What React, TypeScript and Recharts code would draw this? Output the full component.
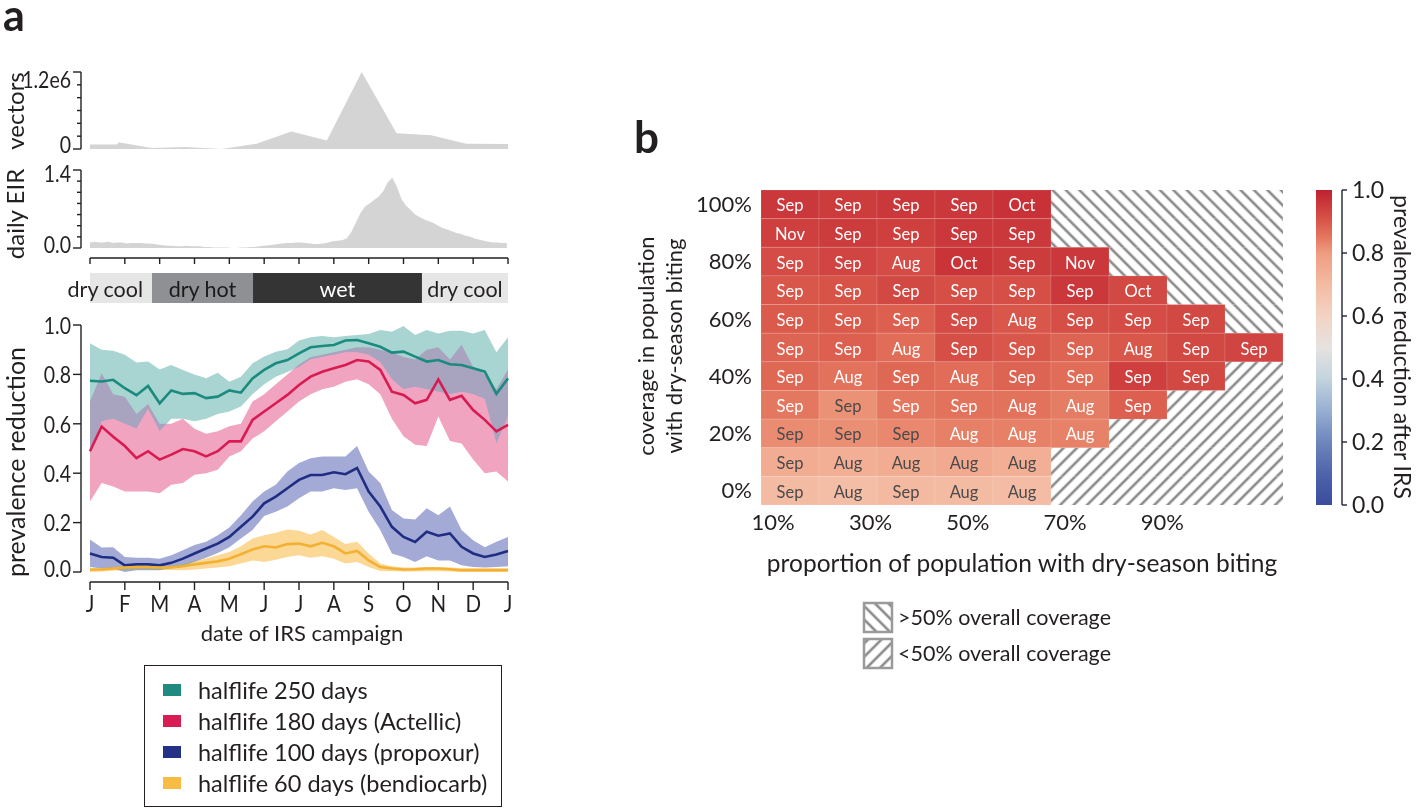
// Seasonal IRS timing figure: (a) vectors, EIR, season bar and prevalence reduction by campaign date,
// (b) heatmap of best campaign month by coverage and dry-season biting.
import React from "react";
import {
  AreaChart,
  Area,
  ComposedChart,
  Line,
  XAxis,
  YAxis,
  BarChart,
  Bar,
  LabelList,
  ScatterChart,
  Scatter,
} from "recharts";

const FONT = "Lato, 'Open Sans', sans-serif";
const INK = "#231f20";

// ---------- panel a data ----------
const monthLabels = ["J", "F", "M", "A", "M", "J", "J", "A", "S", "O", "N", "D", "J"];
const monthTicks = monthLabels.map((_, i) => i);

const vectorMonth = [0, 0.78, 0.82, 1.77, 2.73, 3.78, 4.78, 5.78, 6.8, 7.8, 8.8, 9.8, 10.8, 12];
const vectorCount = [70000, 70000, 105000, 15000, 30000, 0, 82000, 273000, 134000, 1200000, 247000, 216000, 82000, 77000];
const vectorTicks = [0, 200000, 400000, 600000, 800000, 1000000, 1200000];

const eirStepDays = 4;
const eirDaily = [
  0.1, 0.11, 0.1, 0.1, 0.11, 0.09, 0.1, 0.1, 0.08, 0.09,
  0.09, 0.09, 0.08, 0.08, 0.07, 0.06, 0.05, 0.04, 0.04, 0.03,
  0.03, 0.04, 0.03, 0.03, 0.03, 0.02, 0.02, 0.01, 0.01, 0.01,
  0.01, 0.0, 0.0, 0.01, 0.01, 0.02, 0.02, 0.03, 0.04, 0.05,
  0.06, 0.07, 0.08, 0.09, 0.09, 0.1, 0.1, 0.09, 0.08, 0.07,
  0.07, 0.08, 0.1, 0.12, 0.13, 0.14, 0.17, 0.28, 0.45, 0.62,
  0.74, 0.8, 0.86, 0.92, 1.02, 1.18, 1.26, 1.1, 0.88, 0.76,
  0.68, 0.6, 0.55, 0.51, 0.48, 0.45, 0.4, 0.36, 0.33, 0.3,
  0.27, 0.25, 0.22, 0.2, 0.17, 0.15, 0.13, 0.11, 0.1, 0.1,
  0.09, 0.09,
];
const eirTicks = [0, 0.2, 0.4, 0.6, 0.8, 1.0, 1.2, 1.4];

const seasonNames = ["dry cool", "dry hot", "wet", "dry cool"];
const seasonEnds = [1.78, 4.68, 9.53, 12];

const prevTicks = [0, 0.2, 0.4, 0.6, 0.8, 1.0];

// halflife 250 days
const hl250Mid = [0.774, 0.771, 0.778, 0.744, 0.716, 0.753, 0.683, 0.735, 0.721, 0.724, 0.704, 0.71, 0.735, 0.726, 0.784, 0.818, 0.845, 0.858, 0.885, 0.91, 0.915, 0.919, 0.937, 0.939, 0.926, 0.912, 0.888, 0.892, 0.872, 0.852, 0.858, 0.841, 0.838, 0.825, 0.811, 0.721, 0.784];
const hl250Hi = [0.926, 0.9, 0.896, 0.88, 0.848, 0.852, 0.82, 0.838, 0.818, 0.8, 0.784, 0.807, 0.77, 0.79, 0.845, 0.872, 0.892, 0.902, 0.937, 0.95, 0.955, 0.95, 0.955, 0.96, 0.964, 0.98, 0.973, 0.996, 0.96, 0.98, 0.966, 0.977, 0.977, 0.966, 0.98, 0.89, 0.95];
const hl250Lo = [0.48, 0.61, 0.62, 0.6, 0.58, 0.66, 0.57, 0.62, 0.62, 0.61, 0.62, 0.64, 0.65, 0.67, 0.72, 0.76, 0.79, 0.81, 0.83, 0.86, 0.87, 0.88, 0.89, 0.89, 0.88, 0.85, 0.78, 0.74, 0.75, 0.74, 0.73, 0.72, 0.73, 0.72, 0.7, 0.52, 0.63];
// halflife 180 days (Actellic)
const hl180Mid = [0.489, 0.589, 0.548, 0.51, 0.461, 0.489, 0.455, 0.475, 0.498, 0.489, 0.468, 0.489, 0.529, 0.529, 0.616, 0.65, 0.683, 0.717, 0.757, 0.791, 0.811, 0.825, 0.838, 0.858, 0.852, 0.818, 0.73, 0.717, 0.683, 0.697, 0.78, 0.697, 0.713, 0.656, 0.616, 0.569, 0.596];
const hl180Hi = [0.69, 0.805, 0.72, 0.71, 0.64, 0.68, 0.6, 0.6, 0.62, 0.58, 0.56, 0.57, 0.59, 0.6, 0.69, 0.72, 0.76, 0.8, 0.84, 0.87, 0.88, 0.89, 0.9, 0.91, 0.91, 0.9, 0.89, 0.87, 0.86, 0.9, 0.91, 0.86, 0.92, 0.83, 0.8, 0.74, 0.82];
const hl180Lo = [0.285, 0.36, 0.346, 0.326, 0.326, 0.326, 0.319, 0.353, 0.36, 0.394, 0.4, 0.414, 0.468, 0.489, 0.54, 0.57, 0.61, 0.65, 0.69, 0.72, 0.74, 0.75, 0.77, 0.78, 0.76, 0.72, 0.62, 0.55, 0.515, 0.51, 0.63, 0.53, 0.52, 0.455, 0.4, 0.407, 0.366];
// halflife 100 days (propoxur)
const hl100Mid = [0.075, 0.061, 0.058, 0.027, 0.031, 0.031, 0.027, 0.037, 0.054, 0.075, 0.095, 0.115, 0.142, 0.183, 0.224, 0.278, 0.305, 0.339, 0.373, 0.393, 0.393, 0.404, 0.396, 0.421, 0.326, 0.265, 0.183, 0.142, 0.122, 0.163, 0.147, 0.156, 0.102, 0.075, 0.061, 0.071, 0.085];
const hl100Hi = [0.132, 0.099, 0.1, 0.061, 0.058, 0.058, 0.054, 0.068, 0.088, 0.109, 0.122, 0.149, 0.18, 0.23, 0.285, 0.326, 0.353, 0.407, 0.441, 0.461, 0.468, 0.468, 0.468, 0.51, 0.407, 0.36, 0.251, 0.217, 0.213, 0.258, 0.23, 0.265, 0.17, 0.129, 0.1, 0.122, 0.142];
const hl100Lo = [0.02, 0.014, 0.014, 0.0, 0.007, 0.007, 0.007, 0.014, 0.023, 0.04, 0.058, 0.077, 0.1, 0.136, 0.17, 0.227, 0.244, 0.265, 0.299, 0.326, 0.326, 0.339, 0.332, 0.339, 0.244, 0.17, 0.075, 0.061, 0.04, 0.064, 0.047, 0.047, 0.027, 0.02, 0.018, 0.02, 0.023];
// halflife 60 days (bendiocarb)
const hl60Mid = [0.01, 0.01, 0.014, 0.018, 0.02, 0.02, 0.018, 0.018, 0.023, 0.031, 0.037, 0.043, 0.054, 0.072, 0.091, 0.104, 0.099, 0.113, 0.115, 0.104, 0.118, 0.104, 0.075, 0.085, 0.047, 0.02, 0.014, 0.01, 0.011, 0.014, 0.014, 0.011, 0.007, 0.007, 0.007, 0.007, 0.007];
const hl60Hi = [0.014, 0.016, 0.02, 0.024, 0.026, 0.026, 0.025, 0.026, 0.032, 0.045, 0.055, 0.068, 0.081, 0.104, 0.136, 0.149, 0.159, 0.172, 0.167, 0.152, 0.17, 0.142, 0.113, 0.122, 0.075, 0.034, 0.023, 0.018, 0.018, 0.02, 0.02, 0.018, 0.016, 0.016, 0.016, 0.016, 0.016];
const hl60Lo = [0.0, 0.002, 0.005, 0.008, 0.01, 0.01, 0.008, 0.008, 0.007, 0.01, 0.014, 0.018, 0.023, 0.034, 0.047, 0.04, 0.05, 0.061, 0.068, 0.058, 0.064, 0.054, 0.034, 0.04, 0.02, 0.004, 0.003, 0.002, 0.002, 0.003, 0.003, 0.002, 0.0, 0.0, 0.0, 0.0, 0.0];

const seriesNames = [
  "halflife 250 days",
  "halflife 180 days (Actellic)",
  "halflife 100 days (propoxur)",
  "halflife 60 days (bendiocarb)",
];

// ---------- panel b data ----------
const propLevels = [10, 20, 30, 40, 50, 60, 70, 80, 90];
const coverageRows = [100, 90, 80, 70, 60, 50, 40, 30, 20, 10, 0];
const coverageTicks = [0, 20, 40, 60, 80, 100];
const propTicks = [10, 30, 50, 70, 90];
const bestMonth = [
  ["Sep", "Sep", "Sep", "Sep", "Oct"],
  ["Nov", "Sep", "Sep", "Sep", "Sep"],
  ["Sep", "Sep", "Aug", "Oct", "Sep", "Nov"],
  ["Sep", "Sep", "Sep", "Sep", "Sep", "Sep", "Oct"],
  ["Sep", "Sep", "Sep", "Sep", "Aug", "Sep", "Sep", "Sep"],
  ["Sep", "Sep", "Aug", "Sep", "Sep", "Sep", "Aug", "Sep", "Sep"],
  ["Sep", "Aug", "Sep", "Aug", "Sep", "Sep", "Sep", "Sep"],
  ["Sep", "Sep", "Sep", "Sep", "Aug", "Aug", "Sep"],
  ["Sep", "Sep", "Sep", "Aug", "Aug", "Aug"],
  ["Sep", "Aug", "Aug", "Aug", "Aug"],
  ["Sep", "Aug", "Sep", "Aug", "Aug"],
];
const bestReduction = [
  [0.956, 0.95, 0.956, 0.956, 0.97],
  [0.943, 0.95, 0.943, 0.956, 0.956],
  [0.92, 0.935, 0.92, 0.963, 0.95, 0.956],
  [0.9, 0.907, 0.928, 0.914, 0.914, 0.956, 0.928],
  [0.895, 0.895, 0.888, 0.92, 0.9, 0.914, 0.92, 0.928],
  [0.88, 0.888, 0.865, 0.914, 0.9, 0.88, 0.9, 0.928, 0.935],
  [0.873, 0.858, 0.873, 0.865, 0.88, 0.865, 0.943, 0.928],
  [0.85, 0.815, 0.85, 0.858, 0.858, 0.843, 0.888],
  [0.822, 0.818, 0.827, 0.838, 0.838, 0.835],
  [0.75, 0.74, 0.75, 0.758, 0.74],
  [0.7, 0.69, 0.705, 0.7, 0.695],
];
const colorbarTicks = [0, 0.2, 0.4, 0.6, 0.8, 1.0];

// ---------- derived tables ----------
const vectorData = vectorMonth.map((m, i) => ({ m, v: vectorCount[i] }));
const eirData = eirDaily.map((v, i) => ({ m: ((i * eirStepDays) / 365) * 12, v }));
const seasonRow: Record<string, any> = { row: "season" };
seasonEnds.forEach((e, i) => {
  seasonRow["s" + i] = e - (i ? seasonEnds[i - 1] : 0);
});
const prevData = hl250Mid.map((_, i) => ({
  m: i / 3,
  t: hl250Mid[i],
  tb: [hl250Lo[i], hl250Hi[i]],
  p: hl180Mid[i],
  pb: [hl180Lo[i], hl180Hi[i]],
  b: hl100Mid[i],
  bb: [hl100Lo[i], hl100Hi[i]],
  o: hl60Mid[i],
  ob: [hl60Lo[i], hl60Hi[i]],
}));

const heatCells = bestMonth.flatMap((row, r) =>
  row.map((mon, c) => ({ prop: propLevels[c], cov: coverageRows[r], mon, v: bestReduction[r][c] }))
);
const hatchCells = bestMonth.flatMap((row, r) =>
  propLevels.slice(row.length).map((prop) => ({ prop, cov: coverageRows[r] }))
);
const hatchAbove = hatchCells.filter((d) => d.cov > 50);
const hatchBelow = hatchCells.filter((d) => d.cov < 50);
const propLabelAnchors = propTicks.map((pct) => ({ pct, cov: 0 }));
const colorbarData = [{ x: 0, top: 1 }, { x: 1, top: 1 }];

// ---------- styling ----------
const teal = "#1b8a7f";
const pink = "#d81b52";
const navy = "#1f2d82";
const amber = "#f3b133";
const lineColors = [teal, pink, navy, amber];
const swatchColors = ["#1e8a80", "#d81d55", "#233287", "#f8bc45"];
const seasonFill = ["#e6e6e6", "#8f9093", "#343434", "#e6e6e6"];
const seasonInk = [INK, "#1a1a1a", "#ffffff", INK];

const cmapStops: [number, string][] = [
  [0, "#3a4c9c"], [0.1, "#4f64ab"], [0.2, "#6e86bd"], [0.3, "#97afd2"], [0.4, "#c3d4de"],
  [0.5, "#e6e2e0"], [0.6, "#f3d3c4"], [0.7, "#f4bba3"], [0.8, "#ee9c80"], [0.85, "#e4775f"],
  [0.9, "#d9574a"], [1, "#c0202f"],
];
function hexToRgb(h: string) {
  return [1, 3, 5].map((k) => parseInt(h.slice(k, k + 2), 16));
}
function cmap(v: number) {
  for (let i = 1; i < cmapStops.length; i++) {
    const [v1, c1] = cmapStops[i];
    const [v0, c0] = cmapStops[i - 1];
    if (v <= v1) {
      const t = (v - v0) / (v1 - v0);
      const a = hexToRgb(c0);
      const b = hexToRgb(c1);
      const m = a.map((x, k) => Math.round(x + (b[k] - x) * t));
      return `rgb(${m[0]},${m[1]},${m[2]})`;
    }
  }
  return cmapStops[cmapStops.length - 1][1];
}

// layout of panel a (pixels)
const A_SPAN_X = 418;
const CELL_W = 58;
const CELL_H = 315 / 11;

function LeftTick(props: any) {
  const { x, y, payload, label, span = 0, dy = 0 } = props;
  const v = payload.value;
  const text = label ? label(v) : null;
  const len = text != null ? 8 : 4;
  const off = typeof dy === "function" ? dy(v) : dy;
  return (
    <g>
      {span && v === 0 ? <line x1={x} x2={x} y1={y} y2={y - span} stroke={INK} strokeWidth={1.4} /> : null}
      <line x1={x - len} x2={x} y1={y} y2={y} stroke={INK} strokeWidth={1.4} />
      {text != null ? (
        <text transform={`translate(${x - 10},${y + off}) scale(1,1.22)`} textAnchor="end" dominantBaseline="central" fontSize={19.5} fill={INK}>
          {text}
        </text>
      ) : null}
    </g>
  );
}

function BottomTick(props: any) {
  const { x, y, payload, len = 8, showLabel = true } = props;
  return (
    <g>
      {payload.value === 0 ? <line x1={x} x2={x + A_SPAN_X} y1={y} y2={y} stroke={INK} strokeWidth={1.4} /> : null}
      <line x1={x} x2={x} y1={y} y2={y + len} stroke={INK} strokeWidth={1.4} />
      {showLabel ? (
        <text transform={`translate(${x},${y + 30}) scale(1,1.15)`} textAnchor="middle" fontSize={20.5} fill={INK}>
          {monthLabels[payload.value]}
        </text>
      ) : null}
    </g>
  );
}

function HeatCell(props: any) {
  const { cx, cy, payload } = props;
  return (
    <g>
      <rect x={cx - CELL_W / 2} y={cy - CELL_H / 2} width={CELL_W} height={CELL_H} fill={cmap(payload.v)} stroke="rgba(255,255,255,0.12)" strokeWidth={1} />
      <text x={cx} y={cy + 1} textAnchor="middle" dominantBaseline="central" fontSize={16.5} fill={payload.v > 0.83 ? "#ffffff" : "#4a4a4a"}>
        {payload.mon}
      </text>
    </g>
  );
}

function HatchCell(props: any) {
  const { cx, cy, pattern } = props;
  return <rect x={cx - CELL_W / 2} y={cy - CELL_H / 2} width={CELL_W} height={CELL_H} fill={`url(#${pattern})`} />;
}

function NoMark() {
  return <g />;
}

function HatchDefs({ prefix }: { prefix: string }) {
  return (
    <defs>
      <pattern id={prefix + "Back"} width={9.5} height={9.5} patternUnits="userSpaceOnUse" patternTransform="rotate(-45)">
        <line x1={2} x2={2} y1={0} y2={9.5} stroke="#8a8a8a" strokeWidth={2.6} />
      </pattern>
      <pattern id={prefix + "Fwd"} width={9.5} height={9.5} patternUnits="userSpaceOnUse" patternTransform="rotate(45)">
        <line x1={2} x2={2} y1={0} y2={9.5} stroke="#8a8a8a" strokeWidth={2.6} />
      </pattern>
    </defs>
  );
}

function VectorsChart() {
  return (
    <AreaChart width={520} height={100} data={vectorData} margin={{ top: 12, right: 12, bottom: 11, left: 0 }}>
      <XAxis type="number" dataKey="m" domain={[0, 12]} hide padding={{ left: 9, right: 0 }} />
      <YAxis
        width={81}
        domain={[0, 1200000]}
        ticks={vectorTicks}
        interval={0}
        axisLine={{ stroke: INK, strokeWidth: 1.4 }}
        tickLine={false}
        tickSize={0}
        tickMargin={0}
        tick={<LeftTick label={(v: number) => (v === 0 ? "0" : v === 1200000 ? "1.2e6" : null)} dy={(v: number) => (v === 0 ? -5 : 7)} />}
      />
      <Area dataKey="v" type="linear" stroke="none" fill="#d4d4d4" fillOpacity={1} isAnimationActive={false} />
    </AreaChart>
  );
}

function EirChart() {
  return (
    <AreaChart width={520} height={118} data={eirData} margin={{ top: 20, right: 12, bottom: 0, left: 0 }}>
      <XAxis
        type="number"
        dataKey="m"
        domain={[0, 12]}
        ticks={monthTicks}
        interval={0}
        padding={{ left: 9, right: 0 }}
        height={10}
        axisLine={false}
        tickLine={false}
        tickSize={0}
        tickMargin={0}
        tick={<BottomTick len={6} showLabel={false} />}
      />
      <YAxis
        width={81}
        domain={[0, 1.4]}
        ticks={eirTicks}
        interval={0}
        padding={{ top: 0, bottom: 10 }}
        axisLine={false}
        tickLine={false}
        tickSize={0}
        tickMargin={0}
        tick={<LeftTick span={78} label={(v: number) => (v === 0 ? "0.0" : v === 1.4 ? "1.4" : null)} dy={(v: number) => (v === 0 ? -4 : 3)} />}
      />
      <Area dataKey="v" type="linear" stroke="none" fill="#d4d4d4" fillOpacity={1} isAnimationActive={false} />
    </AreaChart>
  );
}

function SeasonBar() {
  return (
    <BarChart width={520} height={30} layout="vertical" data={[seasonRow]} margin={{ top: 0, right: 12, bottom: 0, left: 81 }} barCategoryGap={0}>
      <XAxis type="number" domain={[0, 12]} hide padding={{ left: 9, right: 0 }} />
      <YAxis type="category" dataKey="row" hide />
      {seasonNames.map((name, i) => (
        <Bar key={i} dataKey={"s" + i} stackId="season" fill={seasonFill[i]} isAnimationActive={false}>
          <LabelList
            dataKey={"s" + i}
            content={(p: any) => (
              <text
                x={i === 0 ? p.x + p.width - 9 : p.x + p.width / 2}
                y={p.y + p.height / 2 + 1}
                textAnchor={i === 0 ? "end" : "middle"}
                dominantBaseline="central"
                fontSize={21.5}
                fill={seasonInk[i]}
              >
                {name}
              </text>
            )}
          />
        </Bar>
      ))}
    </BarChart>
  );
}

function PrevalenceChart() {
  const bands = [
    { key: "tb", fill: "#a8d5d1" },
    { key: "pb", fill: "#f0a4c0" },
    { key: "bb", fill: "#a3aad6" },
    { key: "ob", fill: "#fcd896" },
  ];
  const lines = ["t", "p", "b", "o"];
  return (
    <ComposedChart width={520} height={342} data={prevData} margin={{ top: 15, right: 12, bottom: 0, left: 0 }}>
      <XAxis
        type="number"
        dataKey="m"
        domain={[0, 12]}
        ticks={monthTicks}
        interval={0}
        padding={{ left: 9, right: 0 }}
        height={70}
        axisLine={false}
        tickLine={false}
        tickSize={0}
        tickMargin={0}
        tick={<BottomTick />}
      />
      <YAxis
        width={81}
        domain={[0, 1]}
        ticks={prevTicks}
        interval={0}
        padding={{ top: 0, bottom: 10 }}
        axisLine={false}
        tickLine={false}
        tickSize={0}
        tickMargin={0}
        tick={<LeftTick span={247} label={(v: number) => v.toFixed(1)} dy={(v: number) => (v === 0 ? -4 : 0)} />}
      />
      {bands.map((b) => (
        <Area key={b.key} className="band" dataKey={b.key} type="linear" stroke="none" fill={b.fill} fillOpacity={1} isAnimationActive={false} />
      ))}
      {lines.map((k, i) => (
        <Line key={k} dataKey={k} type="linear" stroke={lineColors[i]} strokeWidth={2.6} dot={false} activeDot={false} isAnimationActive={false} />
      ))}
    </ComposedChart>
  );
}

function HeatmapChart() {
  return (
    <ScatterChart width={660} height={420} margin={{ top: 20, right: 17, bottom: 5, left: 0 }}>
      <HatchDefs prefix="hm" />
      <XAxis xAxisId="cell" type="number" dataKey="prop" domain={[5, 95]} hide height={0} />
      <XAxis
        xAxisId="pct"
        type="number"
        dataKey="pct"
        domain={[7.5, 114.8]}
        allowDataOverflow
        ticks={propTicks}
        interval={0}
        height={80}
        axisLine={false}
        tickLine={false}
        tickSize={0}
        tickMargin={9}
        tickFormatter={(v: number) => `${v}%`}
        tick={{ fontSize: 22, fill: INK }}
      />
      <YAxis
        type="number"
        dataKey="cov"
        domain={[-5, 105]}
        ticks={coverageTicks}
        interval={0}
        width={121}
        axisLine={false}
        tickLine={false}
        tickSize={0}
        tickMargin={9}
        tickFormatter={(v: number) => `${v}%`}
        tick={{ fontSize: 22, fill: INK }}
      />
      <Scatter xAxisId="cell" data={hatchAbove} shape={<HatchCell pattern="hmBack" />} isAnimationActive={false} />
      <Scatter xAxisId="cell" data={hatchBelow} shape={<HatchCell pattern="hmFwd" />} isAnimationActive={false} />
      <Scatter xAxisId="cell" data={heatCells} shape={<HeatCell />} isAnimationActive={false} />
      <Scatter xAxisId="pct" data={propLabelAnchors} shape={<NoMark />} isAnimationActive={false} />
    </ScatterChart>
  );
}

function ColorbarChart() {
  const stopsTopDown = [...cmapStops].reverse();
  return (
    <AreaChart width={117} height={360} data={colorbarData} margin={{ top: 20, right: 0, bottom: 25, left: 16 }}>
      <defs>
        <linearGradient id="cbarGrad" x1="0" y1="0" x2="0" y2="1">
          {stopsTopDown.map(([v, c]) => (
            <stop key={v} offset={`${(1 - v) * 100}%`} stopColor={c} />
          ))}
        </linearGradient>
      </defs>
      <XAxis type="number" dataKey="x" domain={[0, 1.625]} hide />
      <YAxis
        orientation="right"
        width={75}
        domain={[0, 1]}
        ticks={colorbarTicks}
        interval={0}
        axisLine={{ stroke: "#1d2338", strokeWidth: 1.4 }}
        tickLine={{ stroke: "#1d2338", strokeWidth: 1.4 }}
        tickSize={5}
        tickMargin={5}
        tickFormatter={(v: number) => v.toFixed(1)}
        tick={{ fontSize: 23, fill: INK }}
      />
      <Area dataKey="top" type="linear" baseValue={0} stroke="none" fill="url(#cbarGrad)" fillOpacity={1} isAnimationActive={false} />
    </AreaChart>
  );
}

function Rot({ x, y, angle, size, children }: any) {
  return (
    <text x={x} y={y} transform={`rotate(${angle} ${x} ${y})`} textAnchor="middle" fontSize={size} fill={INK}>
      {children}
    </text>
  );
}

export default function App() {
  return (
    <div style={{ position: "absolute", left: 0, top: 0, width: 1417, height: 808, background: "#fff", fontFamily: FONT, color: INK, overflow: "hidden" }}>
      <style>{`.band .recharts-area-area{mix-blend-mode:darken}`}</style>
      <div style={{ position: "absolute", left: 0, top: 60 }}>
        <VectorsChart />
      </div>
      <div style={{ position: "absolute", left: 0, top: 150 }}>
        <EirChart />
      </div>
      <div style={{ position: "absolute", left: 0, top: 273 }}>
        <SeasonBar />
      </div>
      <div style={{ position: "absolute", left: 0, top: 310 }}>
        <PrevalenceChart />
      </div>
      <div style={{ position: "absolute", left: 640, top: 170 }}>
        <HeatmapChart />
      </div>
      <div style={{ position: "absolute", left: 1300, top: 170 }}>
        <ColorbarChart />
      </div>

      {/* legend of panel a */}
      <div style={{ position: "absolute", left: 144, top: 665, width: 358, height: 142, boxSizing: "border-box", border: `1.5px solid ${INK}`, background: "#fff" }}>
        {seriesNames.map((name, i) => (
          <div key={name} style={{ position: "absolute", left: 18, top: 10 + i * 31, height: 28, display: "flex", alignItems: "center", fontSize: 23.5, whiteSpace: "nowrap" }}>
            <span style={{ display: "inline-block", width: 18, height: 12, background: swatchColors[i], marginRight: 17 }} />
            {name}
          </div>
        ))}
      </div>

      {/* titles, panel letters and hatch legend */}
      <svg width={1417} height={808} style={{ position: "absolute", left: 0, top: 0, pointerEvents: "none" }}>
        <HatchDefs prefix="lg" />
        <text x={3} y={31} fontSize={43} fontWeight={700} fill={INK}>a</text>
        <text x={634} y={153} fontSize={44} fontWeight={700} fill={INK}>b</text>
        <Rot x={24} y={111} angle={-90} size={24}>vectors</Rot>
        <Rot x={24} y={214} angle={-90} size={24}>daily EIR</Rot>
        <Rot x={25} y={462} angle={-90} size={25}>prevalence reduction</Rot>
        <text x={302} y={641} textAnchor="middle" fontSize={22} fill={INK}>date of IRS campaign</text>
        <Rot x={654} y={346} angle={-90} size={22}>coverage in population</Rot>
        <Rot x={682} y={346} angle={-90} size={22}>with dry-season biting</Rot>
        <text x={1022} y={572} textAnchor="middle" fontSize={24.5} fill={INK}>proportion of population with dry-season biting</text>
        <Rot x={1394} y={347} angle={90} size={23}>prevalence reduction after IRS</Rot>
        <rect x={864} y={603} width={28} height={29} fill="url(#lgBack)" stroke="#9a9a9a" strokeWidth={2.5} />
        <rect x={864} y={639} width={28} height={29} fill="url(#lgFwd)" stroke="#9a9a9a" strokeWidth={2.5} />
        <text x={898} y={625} fontSize={21.5} fill={INK}>&gt;50% overall coverage</text>
        <text x={898} y={661} fontSize={21.5} fill={INK}>&lt;50% overall coverage</text>
      </svg>
    </div>
  );
}
